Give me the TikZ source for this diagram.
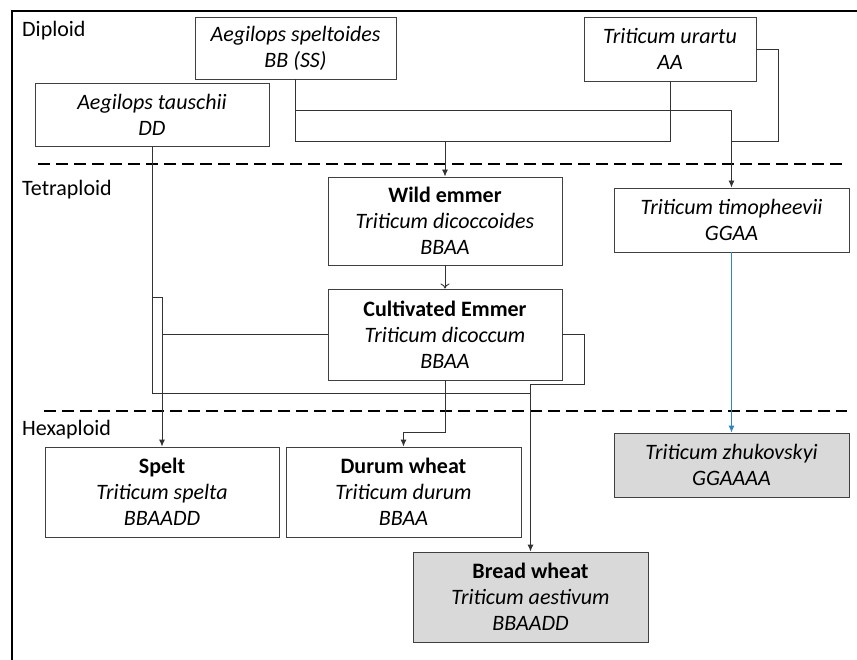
\documentclass[tikz,border=0pt]{standalone}
\usepackage{fontspec}
\setmainfont{Carlito}
\usetikzlibrary{arrows.meta}
\definecolor{boxline}{RGB}{64,64,64}
\definecolor{hexfill}{RGB}{217,217,217}
\definecolor{bluelink}{RGB}{46,134,193}
\tikzset{
  taxon/.style={draw=boxline, line width=0.9pt, align=center, inner sep=0pt,
    minimum width=234pt, minimum height=90pt, font=\fontsize{22}{26}\selectfont},
  hexa/.style={taxon, fill=hexfill},
  level/.style={anchor=west, inner sep=0pt, font=\fontsize{22}{26}\selectfont},
  link/.style={draw=black!80, line width=0.9pt},
  arrow/.style={link, -{Latex[length=7pt,width=6pt]}},
  openarrow/.style={link, -{To[length=5pt,width=9pt]}},
  divider/.style={line width=2.6pt, dash pattern=on 12pt off 6pt},
}

\begin{document}
\begin{tikzpicture}[x=1pt,y=-1pt]
  \useasboundingbox (0,0) rectangle (857,660);
  % frame and ploidy levels
  \draw[line width=2pt] (12,660) -- (12,11) -- (857,11);
  \draw[divider] (38,164) -- (843,164);
  \draw[divider] (44,411) -- (847,411);

  \node[level] (diploid) at (22,31) {Diploid};
  \node[level] (tetraploid) at (22,190) {Tetraploid};
  \node[level] (hexaploid) at (22,430) {Hexaploid};

  % diploid species
  \node[taxon, minimum width=201pt, minimum height=62pt] (speltoides) at (295.5,48)
    {\textit{Aegilops speltoides}\\\textit{BB (SS)}};
  \node[taxon, minimum width=234pt, minimum height=63pt] (tauschii) at (152,114.5)
    {\textit{Aegilops tauschii}\\\textit{DD}};
  \node[taxon, minimum width=172pt, minimum height=64pt] (urartu) at (670,49)
    {\textit{Triticum urartu}\\\textit{AA}};

  % tetraploid species
  \node[taxon, minimum height=88pt] (wild) at (445,221)
    {\textbf{Wild emmer}\\\textit{Triticum dicoccoides}\\\textit{BBAA}};
  \node[taxon, minimum height=91pt] (cultivated) at (445,334.5)
    {\textbf{Cultivated Emmer}\\\textit{Triticum dicoccum}\\\textit{BBAA}};
  \node[taxon, minimum width=235pt, minimum height=64pt] (timopheevii) at (731.5,220)
    {\textit{Triticum timopheevii}\\\textit{GGAA}};

  % hexaploid species
  \node[taxon] (spelt) at (162,492)
    {\textbf{Spelt}\\\textit{Triticum spelta}\\\textit{BBAADD}};
  \node[taxon, minimum width=235pt] (durum) at (403.5,492)
    {\textbf{Durum wheat}\\\textit{Triticum durum}\\\textit{BBAA}};
  \node[hexa, minimum width=235pt] (bread) at (530.5,597)
    {\textbf{Bread wheat}\\\textit{Triticum aestivum}\\\textit{BBAADD}};
  \node[hexa, minimum width=235pt, minimum height=64pt] (zhukovskyi) at (731.5,465)
    {\textit{Triticum zhukovskyi}\\\textit{GGAAAA}};

  \coordinate (abjoin) at (445,141);
  \draw[arrow] (speltoides.south) |- (abjoin) -- (wild.north);
  \draw[link] (urartu.south) |- (abjoin);
  \draw[arrow] (speltoides.south) ++(0,31) -| (timopheevii.north);
  \draw[link] (urartu.east) -- ++(22,0) |- (timopheevii.north |- abjoin);

  \draw[openarrow] (wild.south) -- (cultivated.north);
  \draw[arrow, bluelink] (timopheevii.south) -- (zhukovskyi.north);

  \draw[arrow] (tauschii.south) ++(0,151) -| (spelt.north);
  \draw[link] (cultivated.west) -- (cultivated.west -| spelt.north);
  \draw[link] (tauschii.south) -- ++(0,247) -| (bread.north |- 0,384);
  \draw[arrow] (cultivated.east) -- ++(22,0) -- ++(0,49.5) -| (bread.north);
  \draw[arrow] (cultivated.south) -- ++(0,52) -| (durum.north);
\end{tikzpicture}
\end{document}
